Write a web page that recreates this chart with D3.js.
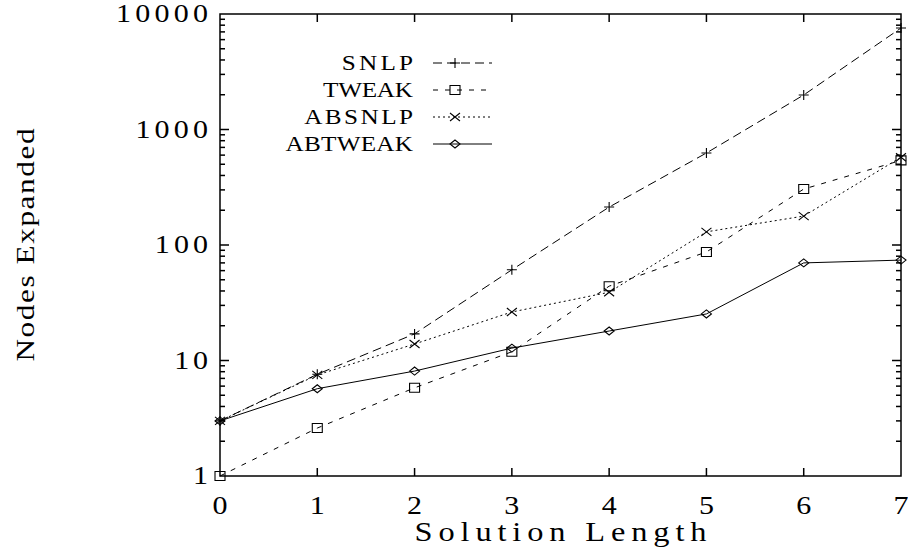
<!DOCTYPE html>
<html>
<head>
<meta charset="utf-8">
<script src="https://cdn.jsdelivr.net/npm/d3@7"></script>
<style>
    body { margin: 0; background: #fff; }
    text { font-family: "Liberation Serif", "DejaVu Serif", serif; fill: #000; }
</style>
</head>
<body>
<div id="chart"></div>
<script>
// solution length on x, nodes expanded (log) on y
const lengths = [0, 1, 2, 3, 4, 5, 6, 7];
const snlp = [3, 7.6, 17, 61, 213, 626, 1990, 7560];
const tweak = [1, 2.6, 5.8, 11.9, 44, 87, 305, 540];
const absnlp = [3, 7.5, 13.9, 26.3, 39, 130, 178, 575];
const abtweak = [3, 5.7, 8.1, 12.8, 18, 25.3, 70, 74];

const seriesNames = ["SNLP", "TWEAK", "ABSNLP", "ABTWEAK"];
const xTicks = [0, 1, 2, 3, 4, 5, 6, 7];
const yTicks = [1, 10, 100, 1000, 10000];

const width = 908;
const height = 548;
const margin = {top: 14, right: 7, bottom: 72, left: 220};

const series = [
    {name: seriesNames[0], values: snlp, dash: "9,5", marker: "plus"},
    {name: seriesNames[1], values: tweak, dash: "5,7", marker: "square"},
    {name: seriesNames[2], values: absnlp, dash: "2,3", marker: "cross"},
    {name: seriesNames[3], values: abtweak, dash: null, marker: "diamond"}
];

const x = d3.scaleLinear()
    .domain([0, 7])
    .range([margin.left, width - margin.right]);

const y = d3.scaleLog()
    .domain([1, 10000])
    .range([height - margin.bottom, margin.top]);

const svg = d3.select("#chart")
    .append("svg")
    .attr("width", width)
    .attr("height", height);

// text that is a bit wider than the font, like the typewriter face of the original
const SX = 1.2;
const label = (parent, tx, ty, str, size, anchor, len, rot) => {
    const g = parent.append("g")
        .attr("transform", `translate(${tx},${ty})${rot ? " rotate(-90)" : ""} scale(${SX},1)`);
    const t = g.append("text")
        .attr("text-anchor", anchor)
        .attr("font-size", size)
        .text(str);
    if (len) t.attr("textLength", len / SX).attr("lengthAdjust", "spacing");
    return t;
};

// mirrored ticks on all four sides, pointing inward
const minorTicks = [];
for (let d = 1; d < 10000; d *= 10) {
    for (let k = 2; k <= 9; k++) minorTicks.push(d * k);
}

const axes = svg.append("g")
    .attr("stroke", "#000")
    .attr("stroke-width", 1.5);

const x0 = x.range()[0], x1 = x.range()[1];
const y0 = y.range()[0], y1 = y.range()[1];

axes.selectAll(".xt")
    .data(xTicks.slice(1, -1))
    .join("g")
    .each(function(d) {
        const g = d3.select(this);
        g.append("line").attr("x1", x(d)).attr("x2", x(d)).attr("y1", y0).attr("y2", y0 - 8);
        g.append("line").attr("x1", x(d)).attr("x2", x(d)).attr("y1", y1).attr("y2", y1 + 8);
    });

axes.selectAll(".yt")
    .data(yTicks.slice(1, -1).map(v => ({v, len: 9})).concat(minorTicks.map(v => ({v, len: 5}))))
    .join("g")
    .each(function(d) {
        const g = d3.select(this);
        const yy = y(d.v);
        g.append("line").attr("x1", x0).attr("x2", x0 + d.len).attr("y1", yy).attr("y2", yy);
        g.append("line").attr("x1", x1).attr("x2", x1 - d.len).attr("y1", yy).attr("y2", yy);
    });

svg.append("rect")
    .attr("x", x0)
    .attr("y", y1)
    .attr("width", x1 - x0)
    .attr("height", y0 - y1)
    .attr("fill", "none")
    .attr("stroke", "#000")
    .attr("stroke-width", 1.5);

const labels = svg.append("g");

xTicks.forEach(d => label(labels, x(d), 514, d, 25, "middle"));
yTicks.forEach(d => label(labels, 208, y(d) + 8, d, 25, "end", String(d).length * 19.4 - 5));

label(labels, (x0 + x1) / 2, 541, "Solution Length", 27, "middle", 292);
label(labels, 34, (y0 + y1) / 2, "Nodes Expanded", 26, "middle", 233, true);

const drawMarker = (g, type, cx, cy) => {
    const m = g.append("path")
        .attr("fill", "none")
        .attr("stroke", "#000")
        .attr("stroke-width", 1.1);
    if (type === "plus") {
        m.attr("d", `M${cx - 5},${cy}h10M${cx},${cy - 5}v10`);
    } else if (type === "square") {
        m.attr("d", `M${cx - 5},${cy - 4.5}h10v9h-10z`);
    } else if (type === "cross") {
        m.attr("d", `M${cx - 5},${cy - 4}l10,8M${cx - 5},${cy + 4}l10,-8`);
    } else {
        m.attr("d", `M${cx - 5},${cy}l5,-4l5,4l-5,4z`);
    }
};

const line = d3.line()
    .x((d, i) => x(lengths[i]))
    .y(d => y(d));

const plot = svg.append("g");

series.forEach(s => {
    plot.append("path")
        .datum(s.values)
        .attr("d", line)
        .attr("fill", "none")
        .attr("stroke", "#000")
        .attr("stroke-width", 1)
        .attr("stroke-dasharray", s.dash);
    const marks = plot.append("g");
    s.values.forEach((v, i) => drawMarker(marks, s.marker, x(lengths[i]), y(v)));
});

// legend
const legend = svg.append("g");
series.forEach((s, i) => {
    const ly = 63 + i * 27;
    label(legend, 413, ly + 7, s.name, 21, "end", s.name.length * 18.8 - 4);
    legend.append("line")
        .attr("x1", 433)
        .attr("x2", 492)
        .attr("y1", ly)
        .attr("y2", ly)
        .attr("stroke", "#000")
        .attr("stroke-width", 1)
        .attr("stroke-dasharray", s.dash);
    drawMarker(legend, s.marker, 455, ly);
});
</script>
</body>
</html>
